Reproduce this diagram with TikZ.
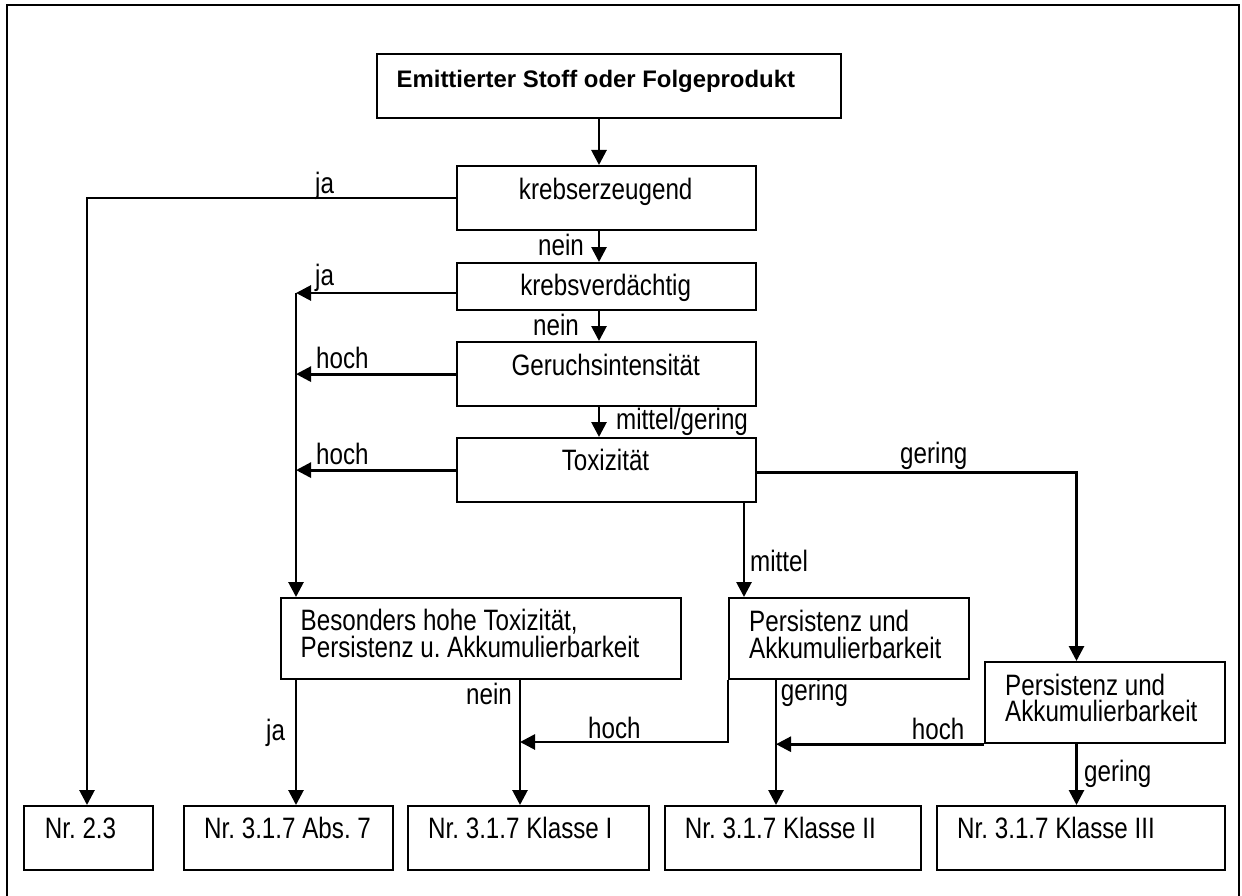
\documentclass[tikz,border=0pt]{standalone}
\usepackage{fontspec}
\setmainfont{Liberation Sans}
\newfontfamily\narrowfont[FakeStretch=0.82]{Liberation Sans}
\usetikzlibrary{arrows.meta}
\frenchspacing
\begin{document}
\begin{tikzpicture}[x=1pt,y=-1pt,
  box/.style={draw, line width=2.2pt, inner sep=0pt, anchor=north west},
  conn/.style={line width=2.8pt},
  arr/.style={conn, -{Triangle[length=15pt,width=15pt]}},
  txt/.style={inner sep=0pt, anchor=base west, font=\narrowfont\fontsize{29.5}{34}\selectfont\frenchspacing},
  ctxt/.style={txt, anchor=base},
  btxt/.style={inner sep=0pt, anchor=base west, font=\bfseries\fontsize{23.9}{28}\selectfont\frenchspacing}]
\useasboundingbox (0,0) rectangle (1242,896);
\draw[line width=2.2pt] (7,900) -- (7,5) -- (1239,5) -- (1239,900);

% boxes
\node[box, minimum width=464pt, minimum height=64pt] (top) at (376,53) {};
\node[box, minimum width=299pt, minimum height=64pt] (ke) at (456,165) {};
\node[box, minimum width=299pt, minimum height=47pt] (kv) at (456,262) {};
\node[box, minimum width=299pt, minimum height=64pt] (gi) at (456,341) {};
\node[box, minimum width=299pt, minimum height=64pt] (tx) at (456,437) {};
\node[box, minimum width=400pt, minimum height=81pt] (bh) at (280,597) {};
\node[box, minimum width=240pt, minimum height=81pt] (p1) at (728,597) {};
\node[box, minimum width=240pt, minimum height=81pt] (p2) at (984,661) {};
\node[box, minimum width=129pt, minimum height=64pt] (n23) at (23,805) {};
\node[box, minimum width=209pt, minimum height=64pt] (abs7) at (183,805) {};
\node[box, minimum width=241pt, minimum height=64pt] (k1) at (407,805) {};
\node[box, minimum width=256pt, minimum height=64pt] (k2) at (664,805) {};
\node[box, minimum width=288pt, minimum height=64pt] (k3) at (936,805) {};

% box texts
\node[btxt] (ttop) at (396.5,87.3) {Emittierter Stoff oder Folgeprodukt};
\node[ctxt] (tke) at (605.7,200) {krebserzeugend};
\node[ctxt] (tkv) at (605.7,295) {krebsverdächtig};
\node[ctxt] (tgi) at (605.7,375) {Geruchsintensität};
\node[ctxt] (ttx) at (605.5,470.7) {Toxizität};
\node[txt] (tbh1) at (300.5,630.7) {Besonders hohe Toxizität,};
\node[txt] (tbh2) at (300.5,657.7) {Persistenz u. Akkumulierbarkeit};
\node[txt] (tp1a) at (749,631.7) {Persistenz und};
\node[txt] (tp1b) at (749,658.3) {Akkumulierbarkeit};
\node[txt] (tp2a) at (1005,695) {Persistenz und};
\node[txt] (tp2b) at (1005,721.7) {Akkumulierbarkeit};
\node[txt] (tn23) at (44.7,838.3) {Nr. 2.3};
\node[txt] (tabs7) at (204,838.3) {Nr. 3.1.7 Abs. 7};
\node[txt] (tk1) at (428,838.3) {Nr. 3.1.7 Klasse I};
\node[txt] (tk2) at (684.7,838.3) {Nr. 3.1.7 Klasse II};
\node[txt] (tk3) at (957,838.3) {Nr. 3.1.7 Klasse III};

% columns and rows
\coordinate (xm) at (599,0);
\coordinate (xl) at (87,0);
\coordinate (xc) at (296,0);
\coordinate (xmid) at (744,0);
\coordinate (xg) at (1076.5,0);
\coordinate (xn) at (520,0);
\coordinate (xk2) at (776,0);
\coordinate (r2) at (0,293);
\coordinate (r5) at (0,472.5);
\coordinate (r7) at (0,742);

% connectors
\draw[arr] (top.south -| xm) -- (ke.north -| xm);
\draw[arr] (ke.west) -- (ke.west -| xl) -- (n23.north -| xl);
\draw[arr] (ke.south -| xm) -- (kv.north -| xm);
\draw[arr] (kv.west |- r2) -- (xc |- r2);
\draw[arr] (kv.south -| xm) -- (gi.north -| xm);
\draw[arr] (gi.west) -- (gi.west -| xc);
\draw[arr] (gi.south -| xm) -- (tx.north -| xm);
\draw[arr] (tx.west) -- (tx.west -| xc);
\draw[arr] (xc |- r2) -- (bh.north -| xc);
\draw[arr] (tx.east |- r5) -- (xg |- r5) -- (p2.north -| xg);
\draw[arr] (tx.south -| xmid) -- (p1.north -| xmid);
\draw[arr] (bh.south -| xc) -- (abs7.north -| xc);
\draw[arr] (bh.south -| xn) -- (k1.north -| xn);
\draw[arr] (p1.south west) -- (p1.south west |- r7) -- (xn |- r7);
\draw[arr] (p1.south -| xk2) -- (k2.north -| xk2);
\draw[arr] (p2.south west) -- (xk2 |- p2.south west);
\draw[arr] (p2.south -| xg) -- (k3.north -| xg);

% connector labels
\node[txt] (lja1) at (315,193.3) {ja};
\node[txt] (lnein1) at (538,255) {nein};
\node[txt] (lja2) at (315,285) {ja};
\node[txt] (lnein2) at (533,335) {nein};
\node[txt] (lhoch1) at (316,368.3) {hoch};
\node[txt] (lmg) at (616,429) {mittel/gering};
\node[txt] (lhoch2) at (316,464.3) {hoch};
\node[txt] (lgering1) at (900,463.3) {gering};
\node[txt] (lmittel) at (750,571.7) {mittel};
\node[txt] (lja3) at (266,740.7) {ja};
\node[txt] (lnein3) at (466,704) {nein};
\node[txt] (lhoch3) at (588,738.3) {hoch};
\node[txt] (lgering2) at (780.7,700) {gering};
\node[txt] (lhoch4) at (911.7,739) {hoch};
\node[txt] (lgering3) at (1084,781.7) {gering};
\end{tikzpicture}
\end{document}
